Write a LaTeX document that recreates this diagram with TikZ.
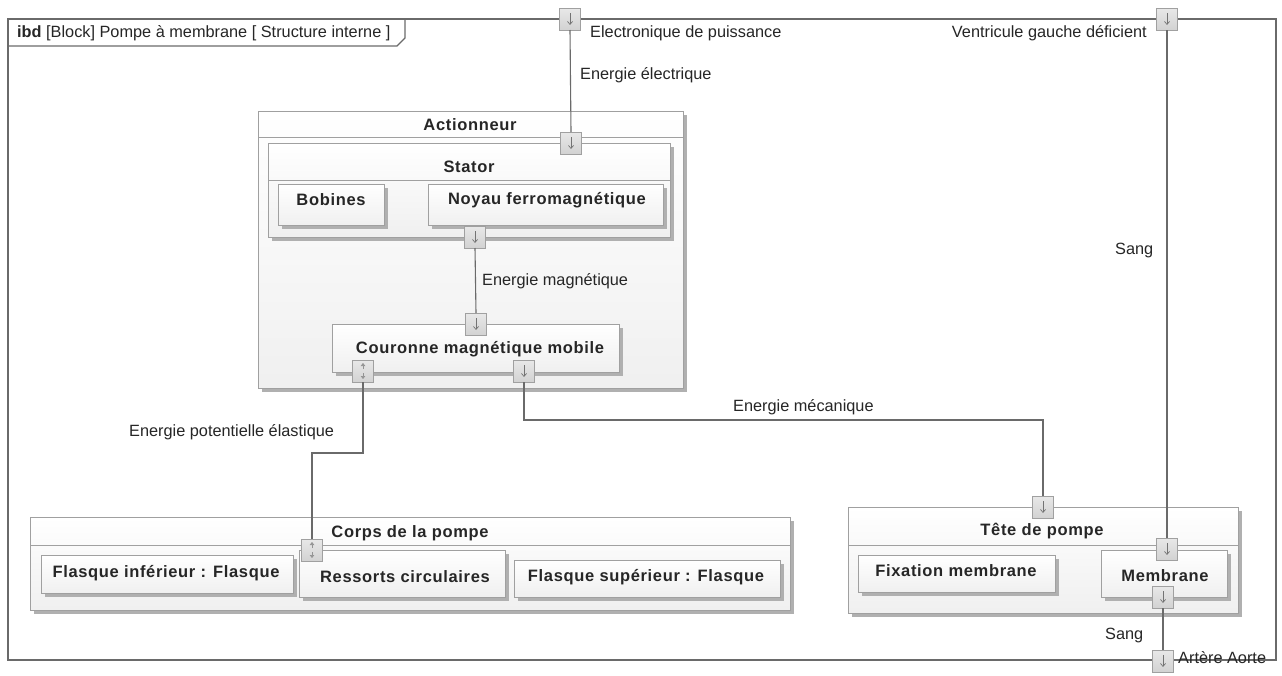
\documentclass[tikz,border=0pt]{standalone}
\usepackage{fontspec}
\setmainfont{Liberation Sans}
\newfontfamily\blkfont[LetterSpace=4]{Liberation Sans}
\usetikzlibrary{shadows,arrows.meta}
\definecolor{linec}{HTML}{6A6A6A}
\definecolor{boxc}{HTML}{A0A0A0}
\definecolor{shadc}{HTML}{B0B0B0}
\definecolor{txtc}{HTML}{262626}
\begin{document}
\begin{tikzpicture}[x=1pt,y=-1pt,
  frame/.style={draw=linec, line width=1.1pt, inner sep=0pt, outer sep=0pt},
  blockbox/.style={draw=boxc, line width=1pt, top color=white, bottom color=gray!12, inner sep=0pt, outer sep=0pt, anchor=north west,
     drop shadow={shadow xshift=4pt, shadow yshift=-4pt, fill=shadc, opacity=1}},
  hline/.style={draw=boxc, line width=1pt},
  btitle/.style={font=\blkfont\bfseries\fontsize{16.5}{18}\selectfont, text=txtc, inner sep=0pt},
  lbl/.style={font=\fontsize{16.3}{18}\selectfont, text=txtc, inner sep=0pt},
  conn/.style={draw=linec, line width=1.1pt},
  port/.style={draw=boxc, top color=gray!18, bottom color=gray!35, line width=0.8pt, minimum width=21pt, minimum height=22pt, inner sep=0pt, outer sep=0pt,
     path picture={\draw[gray!90!black, line width=0.7pt, -{Straight Barb[length=3pt,width=5pt]}] ([yshift=-5pt]path picture bounding box.north) -- ([yshift=5pt]path picture bounding box.south);}},
  bport/.style={draw=boxc, top color=gray!18, bottom color=gray!35, line width=0.8pt, minimum width=21pt, minimum height=22pt, inner sep=0pt, outer sep=0pt,
     path picture={\draw[gray!85, line width=0.7pt, -{Triangle[length=3pt,width=4.5pt]}] ([yshift=2pt]path picture bounding box.center) -- ([yshift=8pt]path picture bounding box.center);
     \draw[gray!85, line width=0.7pt, -{Triangle[length=3pt,width=4.5pt]}] ([yshift=-2pt]path picture bounding box.center) -- ([yshift=-8pt]path picture bounding box.center);}}
]
\useasboundingbox (0,0) rectangle (1282,675);
\fill[white] (0,0) rectangle (1282,675);

% outer frame
\node[frame, anchor=north west, minimum width=1268pt, minimum height=641pt] (frm) at (8,19) {};
\draw[frame] (8,46) -- (397,46) -- (405,38) -- (405,19);
\node[lbl, anchor=west] (ttl) at (17,33) {\textbf{ibd} [Block] Pompe à membrane [ Structure interne ]};

% Actionneur
\node[blockbox, minimum width=425pt, minimum height=277pt] (act) at (258,111) {};
\draw[hline] (258,137) -- (683,137);
\node[btitle] (actT) at (470,125) {Actionneur};

% Stator
\node[blockbox, minimum width=402pt, minimum height=94pt] (sta) at (268,143) {};
\draw[hline] (268,180) -- (670,180);
\node[btitle] (staT) at (469,167) {Stator};
\node[blockbox, minimum width=106pt, minimum height=41pt] (bob) at (278,184) {};
\node[btitle] (bobT) at (331,200) {Bobines};
\node[blockbox, minimum width=235pt, minimum height=41pt] (noy) at (428,184) {};
\node[btitle] (noyT) at (547,200) {Noyau ferromagnétique};

% Couronne
\node[blockbox, minimum width=287pt, minimum height=48pt] (cou) at (332,324) {};
\node[btitle] (couT) at (480,349) {Couronne magnétique mobile};

% Corps de la pompe
\node[blockbox, minimum width=760pt, minimum height=93pt] (cor) at (30,517) {};
\draw[hline] (30,545) -- (790,545);
\node[btitle] (corT) at (410,533) {Corps de la pompe};
\node[blockbox, minimum width=252pt, minimum height=38pt] (fli) at (41,555) {};
\node[btitle] (fliT) at (166,573) {Flasque inférieur : Flasque};
\node[blockbox, minimum width=206pt, minimum height=47pt] (res) at (299,550) {};
\node[btitle] (resT) at (405,577) {Ressorts circulaires};
\node[blockbox, minimum width=266pt, minimum height=37pt] (fls) at (514,560) {};
\node[btitle] (flsT) at (646,577) {Flasque supérieur : Flasque};

% Tete de pompe
\node[blockbox, minimum width=390pt, minimum height=106pt] (tet) at (848,507) {};
\draw[hline] (848,545) -- (1238,545);
\node[btitle] (tetT) at (1042,531) {Tête de pompe};
\node[blockbox, minimum width=197pt, minimum height=37pt] (fix) at (858,555) {};
\node[btitle] (fixT) at (956,571) {Fixation membrane};
\node[blockbox, minimum width=126pt, minimum height=47pt] (mem) at (1101,550) {};
\node[btitle] (memT) at (1165,576) {Membrane};

% ports
\node[port] (pElec) at (570,19) {};
\node[port] (pAct) at (571,143) {};
\node[port] (pSta) at (475,237) {};
\node[port] (pCouT) at (476,324) {};
\node[bport] (pCouL) at (363,371) {};
\node[port] (pCouR) at (524,371) {};
\node[bport] (pRes) at (312,550) {};
\node[port] (pTet) at (1043,507) {};
\node[port] (pVen) at (1167,19) {};
\node[port] (pMemT) at (1167,549) {};
\node[port] (pMemB) at (1163,597) {};
\node[port] (pAor) at (1163,661) {};

% connectors
\draw[conn] (pElec.south) -- (pAct.north);
\draw[conn] (pSta.south) -- (pCouT.north);
\draw[conn] (pCouL.south) -- ++(0,71) -| (pRes.north);
\draw[conn] (pCouR.south) -- ++(0,38) -| (pTet.north);
\draw[conn] (pVen.south) -- (pMemT.north);
\draw[conn] (pMemB.south) -- (pAor.north);

% labels
\node[lbl, anchor=west] (lElec) at (590,33) {Electronique de puissance};
\node[lbl, anchor=west] (lEE) at (580,75) {Energie électrique};
\node[lbl, anchor=west] (lEM) at (482,281) {Energie magnétique};
\node[lbl, anchor=west] (lEP) at (129,432) {Energie potentielle élastique};
\node[lbl, anchor=west] (lEMe) at (733,407) {Energie mécanique};
\node[lbl, anchor=east] (lVen) at (1147,33) {Ventricule gauche déficient};
\node[lbl, anchor=west] (lS1) at (1115,250) {Sang};
\node[lbl, anchor=west] (lS2) at (1105,635) {Sang};
\node[lbl, anchor=west] (lAor) at (1178,658) {Artère Aorte};
\end{tikzpicture}
\end{document}
